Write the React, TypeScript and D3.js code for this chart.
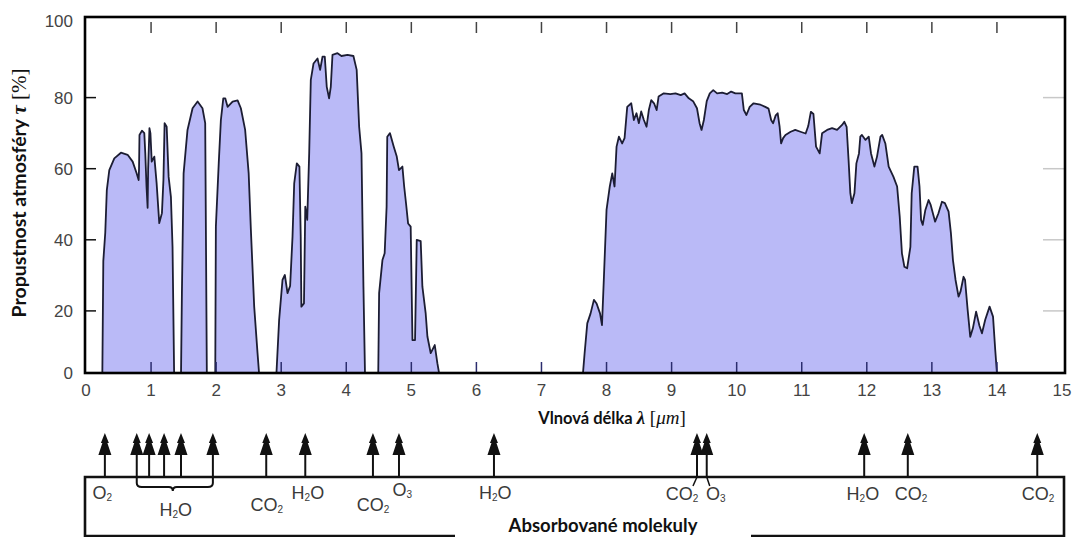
import React from 'react'
import * as d3 from 'd3'

// atmospheric windows, each point is [wavelength in µm, transmittance in %]
const band1 = [
  [0.25, 0], [0.266, 34], [0.296, 42], [0.32, 54], [0.358, 59.6], [0.435, 62.9], [0.537, 64.5],
  [0.64, 63.9], [0.717, 62], [0.778, 58.7], [0.809, 56.8], [0.815, 60], [0.822, 69.5], [0.86, 70.7],
  [0.896, 70], [0.911, 64.4], [0.93, 55], [0.947, 49], [0.955, 60], [0.975, 71.4], [0.99, 70],
  [1.01, 62], [1.05, 63.4], [1.085, 56], [1.126, 44.7], [1.167, 47.5], [1.19, 56.8], [1.208, 72.8],
  [1.24, 71.8], [1.27, 57.7], [1.305, 52.1], [1.33, 38], [1.356, 0],
]
const band2 = [
  [1.459, 0], [1.474, 25], [1.5, 58.7], [1.56, 70.9], [1.638, 77], [1.715, 78.9], [1.79, 77],
  [1.832, 72.8], [1.858, 0],
]
const band3 = [
  [1.986, 0], [1.996, 43.7], [2.04, 61.5], [2.073, 73.7], [2.11, 79.8], [2.14, 79.8], [2.176, 77.4],
  [2.253, 78.9], [2.33, 79.2], [2.38, 77], [2.446, 70.9], [2.5, 58.7], [2.534, 42.8], [2.585, 21.2],
  [2.636, 8.2], [2.67, 0],
]
const band4 = [
  [2.92, 0], [2.968, 17.4], [3.02, 28.7], [3.056, 30.1], [3.097, 25], [3.137, 27], [3.174, 40.9],
  [3.2, 55.9], [3.24, 61.5], [3.28, 60.6], [3.3, 40.9], [3.31, 21.2], [3.35, 22.1], [3.37, 49.3],
  [3.4, 45.6], [3.43, 64.3], [3.455, 85], [3.497, 89.6], [3.558, 91], [3.598, 87.8], [3.635, 91.5],
  [3.67, 91.5], [3.7, 83], [3.736, 79.8], [3.762, 83], [3.788, 92], [3.865, 92.5], [3.926, 91.7],
  [4.018, 92], [4.11, 91.7], [4.16, 87.8], [4.198, 71.8], [4.234, 64.3], [4.264, 26.8], [4.29, 0],
]
const band5 = [
  [4.49, 0], [4.505, 25], [4.556, 34.3], [4.59, 36.2], [4.62, 49.3], [4.63, 69], [4.672, 70],
  [4.73, 66.2], [4.776, 63.4], [4.81, 59.6], [4.863, 60.6], [4.89, 55], [4.92, 50], [4.95, 44.6],
  [4.99, 43.7], [5.017, 11.8], [5.057, 11.8], [5.083, 40], [5.144, 39.6], [5.17, 26.8], [5.22, 19.4],
  [5.247, 12.8], [5.298, 8.1], [5.36, 10.4], [5.4, 5.3], [5.45, 0],
]
const band6 = [
  [7.627, 0], [7.663, 8.1], [7.704, 16.5], [7.755, 19.3], [7.806, 23.1], [7.847, 22.1], [7.9, 19.3],
  [7.93, 16], [7.96, 29.6], [8.0, 48.4], [8.05, 55], [8.088, 58.7], [8.123, 55], [8.154, 66.2],
  [8.19, 69], [8.24, 67.1], [8.277, 68.6], [8.318, 77.4], [8.38, 78.4], [8.42, 73.7], [8.46, 75.6],
  [8.497, 72.8], [8.533, 76.1], [8.574, 73.7], [8.615, 71.8], [8.65, 76.5], [8.687, 79.3], [8.73, 78.4],
  [8.77, 76.5], [8.8, 80.3], [8.88, 81.2], [8.98, 81], [9.06, 81.2], [9.14, 80.7], [9.2, 81.2],
  [9.264, 79.8], [9.33, 79], [9.39, 77], [9.43, 72.8], [9.46, 70.9], [9.496, 73.7], [9.54, 79],
  [9.587, 81.2], [9.64, 82.1], [9.7, 81.2], [9.777, 81.4], [9.854, 81], [9.915, 81.7], [9.98, 81.2],
  [10.08, 81.2], [10.11, 76.5], [10.15, 75.1], [10.2, 77.4], [10.26, 78.4], [10.365, 78], [10.44, 77.4],
  [10.49, 76.9], [10.53, 73.7], [10.56, 72.8], [10.6, 75], [10.63, 75.6], [10.66, 71.8], [10.683, 67.1],
  [10.714, 68.6], [10.75, 69.5], [10.83, 70.4], [10.9, 70.9], [10.98, 70.4], [11.06, 69.9], [11.1, 72],
  [11.14, 76], [11.18, 75.4], [11.22, 66.2], [11.276, 64.3], [11.313, 70], [11.39, 70.9], [11.466, 71.4],
  [11.543, 70.9], [11.62, 72.3], [11.655, 73.2], [11.69, 71.8], [11.72, 62.4], [11.747, 53.1],
  [11.77, 50.3], [11.81, 53.1], [11.84, 61.5], [11.88, 64.3], [11.9, 69], [11.925, 69.5], [11.98, 68.1],
  [12.03, 69], [12.065, 64.3], [12.117, 60.6], [12.157, 63.4], [12.21, 69], [12.236, 69.5],
  [12.285, 67.1], [12.336, 60.6], [12.41, 57.7], [12.466, 55], [12.506, 46.5], [12.54, 36.2],
  [12.578, 32.4], [12.62, 32], [12.67, 38], [12.69, 53.1], [12.73, 60.6], [12.78, 60.6], [12.81, 55],
  [12.834, 45.6], [12.86, 44.2], [12.9, 48.4], [12.95, 51.2], [12.98, 49.9], [13.05, 45.1], [13.1, 47.4],
  [13.155, 50.7], [13.2, 50.3], [13.257, 47.9], [13.293, 41.8], [13.324, 34.3], [13.364, 28.7],
  [13.41, 24], [13.44, 25.4], [13.487, 29.6], [13.51, 28.7], [13.55, 20.3], [13.59, 12.7], [13.63, 15.1],
  [13.68, 19.8], [13.73, 15.9], [13.77, 13.7], [13.82, 17.5], [13.887, 21.2], [13.94, 18.4],
  [13.974, 9], [14.01, 0],
]
const bands = [band1, band2, band3, band4, band5, band6]

const xTicks = d3.range(0, 16)
const yTicks = [0, 20, 40, 60, 80, 100]

// absorption lines (arrows) in µm
const absorberLines = [0.29, 0.78, 0.97, 1.2, 1.46, 1.95, 2.77, 3.37, 4.41, 4.81, 6.27, 9.39, 9.54, 11.96, 12.63, 14.62]
// molecule labels under the arrows
const moleculeNames = ['O2', 'H2O', 'CO2', 'H2O', 'CO2', 'O3', 'H2O', 'CO2', 'O3', 'H2O', 'CO2', 'CO2']
const moleculeAt = [0.25, 1.38, 2.78, 3.41, 4.41, 4.86, 6.29, 9.16, 9.68, 11.94, 12.68, 14.63]
const waterGroup = [0.78, 1.95]

const W = 1074
const H = 537
const frame = { left: 85, right: 1065, top: 17, bottom: 373 }
const box = { top: 477, bottom: 536 }

const sans = '"Liberation Sans", Arial, sans-serif'
const bold = 'Lato, "Open Sans", sans-serif'
const serif = '"Liberation Serif", "DejaVu Serif", serif'

function Formula({ name, x, y }) {
  // digits become small subscripts
  const parts = name.match(/[A-Z][a-z]?|\d+/g)
  return (
    <text x={x} y={y} textAnchor="middle" fontFamily={sans} fontSize={18} fill="#3a3a3a">
      {parts.map((p, i) =>
        /\d/.test(p)
          ? <tspan key={i} fontSize={10} dy={2}>{p}</tspan>
          : <tspan key={i} dy={i > 0 && /\d/.test(parts[i - 1]) ? -2 : 0}>{p}</tspan>
      )}
    </text>
  )
}

function Arrow({ cx }) {
  const base = 455
  const head = `M${cx},${base - 22} L${cx + 4},${base - 12} L${cx + 2.5},${base - 12} L${cx + 6.5},${base} L${cx - 6.5},${base} L${cx - 2.5},${base - 12} L${cx - 4},${base - 12} Z`
  return (
    <g>
      <line x1={cx} x2={cx} y1={base - 2} y2={box.top} stroke="#111" strokeWidth={2} />
      <path d={head} fill="#111" />
    </g>
  )
}

export default function App() {
  const x = d3.scaleLinear().domain([0, 15]).range([86, 1062])
  const y = d3.scaleLinear().domain([0, 100]).range([382, 26.5])

  const area = d3.area().x(d => x(d[0])).y0(y(0)).y1(d => y(d[1]))
  const line = d3.line().x(d => x(d[0])).y(d => y(d[1]))

  // vertical placement of each label (high / low / under the brace)
  const labelY = [499, 516, 511, 499, 511, 496, 499, 500, 500, 500, 500, 500]

  const g0 = x(waterGroup[0])
  const g1 = x(waterGroup[1])
  const gm = x(moleculeAt[1]) - 3
  const brace = `M${g0},${box.top} L${g0},${box.top + 6} Q${g0},${box.top + 10} ${g0 + 5},${box.top + 10} L${gm - 4},${box.top + 10} Q${gm},${box.top + 10} ${gm},${box.top + 14} Q${gm},${box.top + 10} ${gm + 4},${box.top + 10} L${g1 - 5},${box.top + 10} Q${g1},${box.top + 10} ${g1},${box.top + 6} L${g1},${box.top}`

  const titleCx = 603
  const gapHalf = 148

  return (
    <svg width={W} height={H} style={{ position: 'absolute', left: 0, top: 0, background: '#fff' }}>
      <defs>
        <clipPath id="plot-clip">
          <rect x={frame.left} y={frame.top} width={frame.right - frame.left} height={frame.bottom - frame.top} />
        </clipPath>
      </defs>

      <g clipPath="url(#plot-clip)">
        {bands.map((b, i) => (
          <g key={i}>
            <path d={area(b)} fill="#babaf7" />
            <path d={line(b)} fill="none" stroke="#1c1d33" strokeWidth={1.8} strokeLinejoin="round" />
          </g>
        ))}
      </g>

      {/* inner ticks */}
      {xTicks.slice(1, -1).map(t => (
        <g key={'xt' + t}>
          <line x1={x(t)} x2={x(t)} y1={22} y2={33} stroke="#444" strokeWidth={1.5} />
          <line x1={x(t)} x2={x(t)} y1={frame.bottom} y2={frame.bottom - 11} stroke="#2b2d6e" strokeWidth={1.5} />
        </g>
      ))}
      {yTicks.slice(1, -1).map(t => (
        <g key={'yt' + t}>
          <line x1={frame.left} x2={frame.left + 11} y1={y(t)} y2={y(t)} stroke="#111" strokeWidth={1.5} />
          <line x1={frame.right - 22} x2={frame.right} y1={y(t)} y2={y(t)} stroke="#c8c8c8" strokeWidth={1.5} />
        </g>
      ))}

      <rect x={frame.left} y={frame.top} width={frame.right - frame.left} height={frame.bottom - frame.top}
        fill="none" stroke="#000" strokeWidth={2.6} />

      {/* tick labels */}
      {xTicks.map(t => (
        <text key={'xl' + t} x={x(t)} y={396} textAnchor="middle" fontFamily={sans} fontSize={17} fill="#444">{t}</text>
      ))}
      {yTicks.map(t => {
        const ty = t === 0 ? frame.bottom : t === 100 ? frame.top + 4 : y(t)
        return (
          <text key={'yl' + t} x={73} y={ty} dy="0.35em" textAnchor="end" fontFamily={sans} fontSize={17} fill="#444">{t}</text>
        )
      })}

      {/* axis titles */}
      <text x={612} y={424} textAnchor="middle" fontSize={16.5} fill="#111">
        <tspan fontFamily={bold} fontWeight="bold">Vlnová délka </tspan>
        <tspan fontFamily={serif} fontStyle="italic" fontWeight="bold" fontSize={19}>λ</tspan>
        <tspan fontFamily={serif} fontSize={19}> [</tspan>
        <tspan fontFamily={serif} fontStyle="italic" fontSize={19}>μm</tspan>
        <tspan fontFamily={serif} fontSize={19}>]</tspan>
      </text>
      <text transform={`translate(26,193) rotate(-90)`} textAnchor="middle" fontSize={19.5} fill="#111">
        <tspan fontFamily={bold} fontWeight="bold">Propustnost atmosféry </tspan>
        <tspan fontFamily={serif} fontStyle="italic" fontWeight="bold" fontSize={21}>τ</tspan>
        <tspan fontFamily={serif} fontSize={21}> [%]</tspan>
      </text>

      {/* absorbing molecules panel */}
      {absorberLines.map((w, i) => <Arrow key={'ar' + i} cx={x(w)} />)}
      <path
        d={`M${titleCx - gapHalf},${box.bottom} L${frame.left},${box.bottom} L${frame.left},${box.top} L${frame.right - 1},${box.top} L${frame.right - 1},${box.bottom} L${titleCx + gapHalf},${box.bottom}`}
        fill="none" stroke="#111" strokeWidth={2.6} />
      <path d={brace} fill="none" stroke="#111" strokeWidth={2} />
      <line x1={x(9.39)} y1={box.top} x2={x(9.39) - 4} y2={box.top + 9} stroke="#111" strokeWidth={1.5} />
      <line x1={x(9.54)} y1={box.top} x2={x(9.54) + 3} y2={box.top + 9} stroke="#111" strokeWidth={1.5} />
      {moleculeNames.map((m, i) => (
        <Formula key={'ml' + i} name={m} x={x(moleculeAt[i])} y={labelY[i]} />
      ))}
      <text x={titleCx} y={532} textAnchor="middle" fontFamily={bold} fontWeight="bold" fontSize={18.5} fill="#111">Absorbované molekuly</text>
    </svg>
  )
}
